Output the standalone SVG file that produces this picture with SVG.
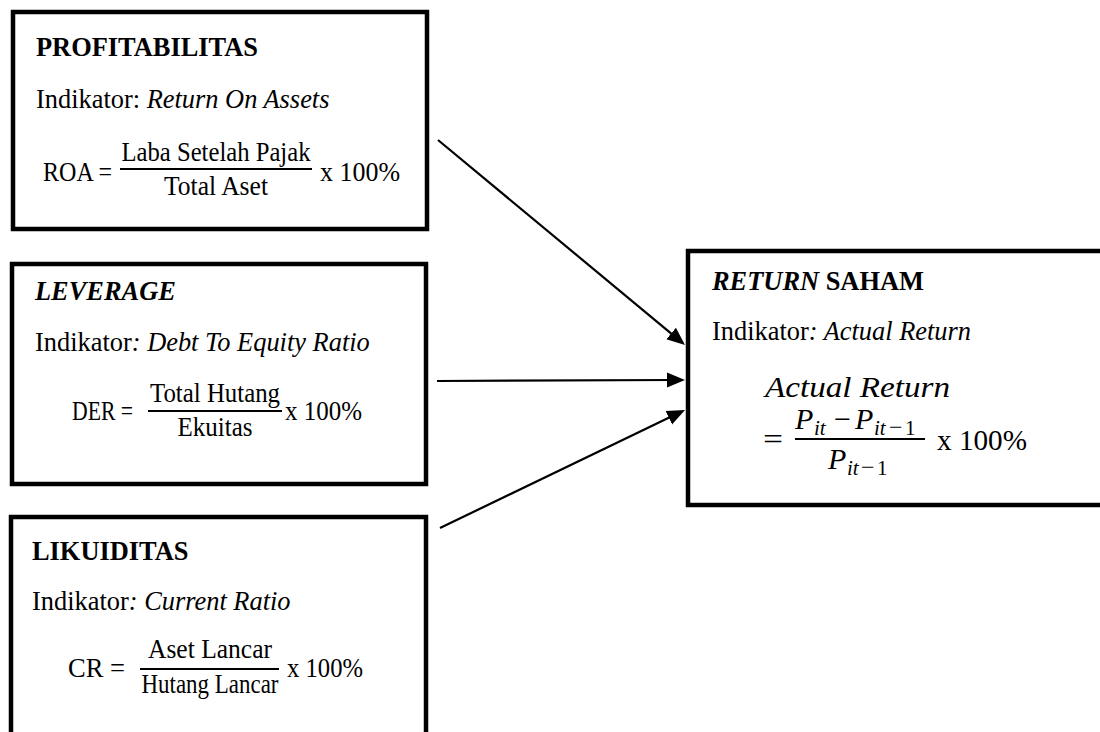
<svg xmlns="http://www.w3.org/2000/svg" width="1100" height="732" viewBox="0 0 1100 732">
  <style>
    .box { fill: #fff; stroke: #000; stroke-width: 4.5; }
    .t { font-family: "Liberation Serif", "Times New Roman", serif; font-size: 26.4px; fill: #000; }
    .b { font-weight: bold; }
    .i { font-style: italic; }
    .m { font-family: "Liberation Serif", "Times New Roman", serif; font-size: 27px; fill: #000; }
    .mr { font-family: "Liberation Serif", "Times New Roman", serif; font-size: 30px; fill: #000; }
    .sub { font-family: "Liberation Serif", "Times New Roman", serif; font-size: 21px; fill: #000; }
    .mn { font-size: 24px; }
    .bar { stroke: #000; stroke-width: 2.2; }
    .conn line { stroke: #000; stroke-width: 2.2; fill: none; }
  </style>
  <defs>
    <marker id="ah" markerUnits="userSpaceOnUse" markerWidth="18" markerHeight="18" viewBox="0 0 18 18" refX="8" refY="9" orient="auto">
      <path d="M0,1.5 L18,9 L0,16.5 Z" fill="#000"/>
    </marker>
  </defs>
  <rect width="1100" height="732" fill="#fff"/>

  <g id="profitabilitas">
    <rect class="box" x="13" y="12" width="414" height="217"/>
    <text class="t b" x="36" y="56">PROFITABILITAS</text>
    <text class="t" x="36" y="108">Indikator: <tspan class="i">Return On Assets</tspan></text>
    <text class="m" x="43" y="181" textLength="69" lengthAdjust="spacingAndGlyphs">ROA =</text>
    <text class="m" x="216" y="161" text-anchor="middle" textLength="189" lengthAdjust="spacingAndGlyphs">Laba Setelah Pajak</text>
    <line class="bar" x1="120" y1="169" x2="312" y2="169"/>
    <text class="m" x="216" y="195" text-anchor="middle" textLength="104" lengthAdjust="spacingAndGlyphs">Total Aset</text>
    <text class="m" x="320" y="181" textLength="80" lengthAdjust="spacingAndGlyphs">x 100%</text>
  </g>

  <g id="leverage">
    <rect class="box" x="12" y="264" width="414" height="220"/>
    <text class="t b i" x="35" y="300">LEVERAGE</text>
    <text class="t" x="35" y="351">Indikator<tspan class="i">: Debt To Equity Ratio</tspan></text>
    <text class="m" x="72" y="420" textLength="61" lengthAdjust="spacingAndGlyphs">DER =</text>
    <text class="m" x="215" y="402" text-anchor="middle" textLength="130" lengthAdjust="spacingAndGlyphs">Total Hutang</text>
    <line class="bar" x1="148" y1="411" x2="282" y2="411"/>
    <text class="m" x="215" y="436" text-anchor="middle" textLength="75" lengthAdjust="spacingAndGlyphs">Ekuitas</text>
    <text class="m" x="285" y="420" textLength="77" lengthAdjust="spacingAndGlyphs">x 100%</text>
  </g>

  <g id="likuiditas">
    <rect class="box" x="11" y="517" width="415" height="260"/>
    <text class="t b" x="32" y="560">LIKUIDITAS</text>
    <text class="t" x="32" y="610">Indikator<tspan class="i">: Current Ratio</tspan></text>
    <text class="m" x="68" y="677" textLength="57" lengthAdjust="spacingAndGlyphs">CR =</text>
    <text class="m" x="210" y="658" text-anchor="middle" textLength="124" lengthAdjust="spacingAndGlyphs">Aset Lancar</text>
    <line class="bar" x1="140" y1="669" x2="279" y2="669"/>
    <text class="m" x="210" y="693" text-anchor="middle" textLength="137" lengthAdjust="spacingAndGlyphs">Hutang Lancar</text>
    <text class="m" x="287" y="677" textLength="76" lengthAdjust="spacingAndGlyphs">x 100%</text>
  </g>

  <g id="return-saham">
    <rect class="box" x="688" y="251" width="430" height="254"/>
    <text class="t b" x="712" y="290"><tspan class="i">RETURN</tspan> SAHAM</text>
    <text class="t" x="712" y="340">Indikator<tspan class="i">: Actual Return</tspan></text>
    <text class="mr i" x="765" y="397" textLength="185" lengthAdjust="spacingAndGlyphs">Actual Return</text>
    <text class="mr" x="763" y="449" textLength="20" lengthAdjust="spacingAndGlyphs">=</text>
    <text class="mr i" x="795" y="429">P</text>
    <text class="sub i" x="814" y="435">it</text>
    <text class="mr" x="834" y="429" textLength="17" lengthAdjust="spacingAndGlyphs">−</text>
    <text class="mr i" x="855" y="429">P</text>
    <text class="sub" y="435"><tspan class="i" x="874">it</tspan><tspan class="mn" x="889">−</tspan><tspan x="905">1</tspan></text>
    <line class="bar" x1="795" y1="439" x2="925" y2="439"/>
    <text class="mr i" x="828" y="469">P</text>
    <text class="sub" y="475"><tspan class="i" x="847">it</tspan><tspan class="mn" x="861">−</tspan><tspan x="877">1</tspan></text>
    <text class="mr" x="937" y="450" textLength="90" lengthAdjust="spacingAndGlyphs">x 100%</text>
  </g>

  <g id="connectors" class="conn">
    <line x1="438" y1="140" x2="677.3" y2="338.6" marker-end="url(#ah)"/>
    <line x1="437" y1="381" x2="675" y2="380" marker-end="url(#ah)"/>
    <line x1="440" y1="528" x2="676" y2="414.3" marker-end="url(#ah)"/>
  </g>
</svg>
